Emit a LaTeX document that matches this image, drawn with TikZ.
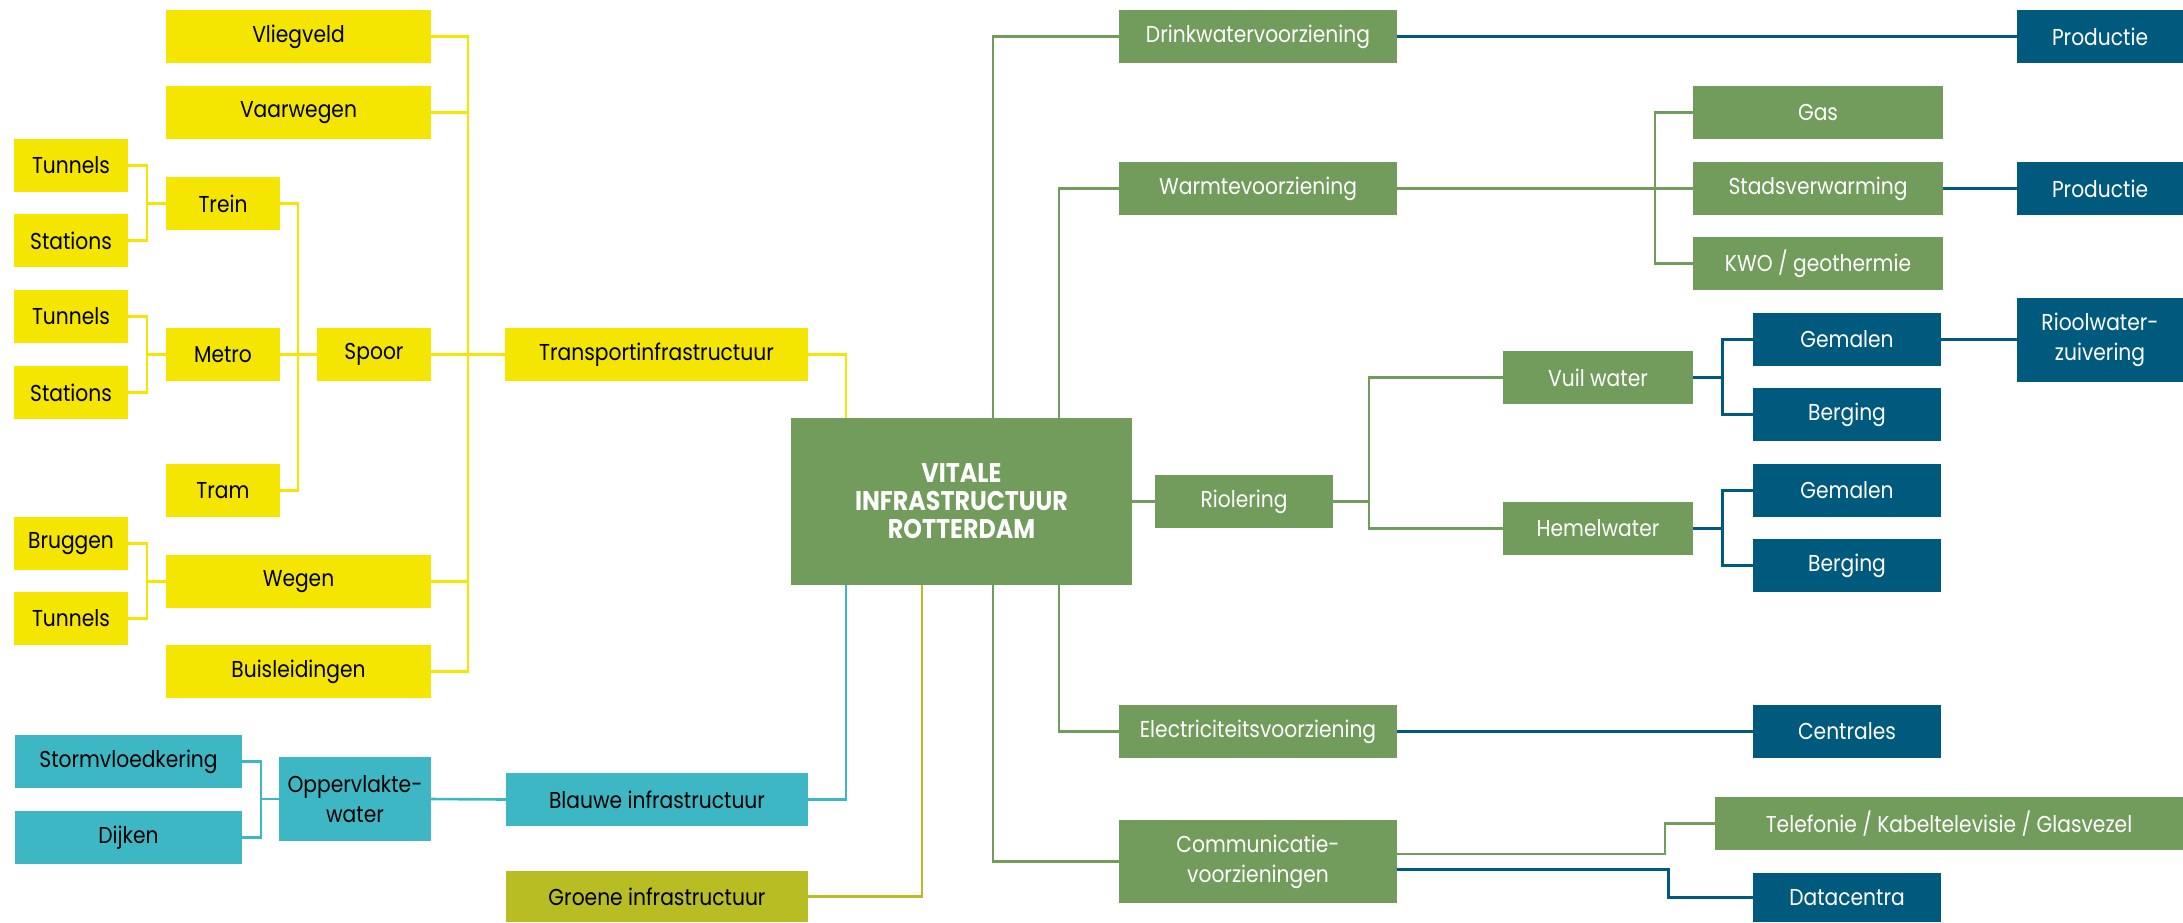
\documentclass[tikz,border=0pt]{standalone}
\usepackage{fontspec}
\setmainfont{Poppins}[FakeStretch=0.88]
\definecolor{yel}{HTML}{F4E600}
\definecolor{tea}{HTML}{3EB7C5}
\definecolor{oli}{HTML}{B7BD23}
\definecolor{grn}{HTML}{719C5B}
\definecolor{dbl}{HTML}{005A7D}
\newcommand\mkbox[7]{\node[#2, minimum width={#5-#3}, minimum height={#6-#4}] (#1) at ({(#3+#5)/2},{(#4+#6)/2}) {#7};}
\begin{document}
\begin{tikzpicture}[x=1pt,y=-1pt,
  boxbase/.style={inner sep=0pt, outer sep=0pt, align=center, font=\fontsize{23}{30}\selectfont},
  ybox/.style={boxbase, fill=yel, text=black},
  tbox/.style={boxbase, fill=tea, text=black},
  obox/.style={boxbase, fill=oli, text=black},
  gbox/.style={boxbase, fill=grn, text=white},
  dbox/.style={boxbase, fill=dbl, text=white},
  cbox/.style={boxbase, fill=grn, text=white, font=\fontsize{27}{28}\selectfont\bfseries},
  ylin/.style={draw=yel, line width=2.6pt},
  tlin/.style={draw=tea, line width=2.6pt},
  olin/.style={draw=oli, line width=2.6pt},
  glin/.style={draw=grn, line width=2.6pt},
  blin/.style={draw=dbl, line width=3pt},
]
\useasboundingbox (0,0) rectangle (2183,922);
% yellow
\mkbox{vlieg}{ybox}{166}{10}{431}{63}{Vliegveld}
\mkbox{vaar}{ybox}{166}{86}{431}{139}{Vaarwegen}
\mkbox{tun1}{ybox}{14}{139}{128}{192}{Tunnels}
\mkbox{sta1}{ybox}{14}{214}{128}{267}{Stations}
\mkbox{trein}{ybox}{166}{177}{280}{230}{Trein}
\mkbox{tun2}{ybox}{14}{290}{128}{343}{Tunnels}
\mkbox{sta2}{ybox}{14}{366}{128}{419}{Stations}
\mkbox{metro}{ybox}{166}{328}{280}{381}{Metro}
\mkbox{spoor}{ybox}{317}{328}{431}{381}{Spoor}
\mkbox{transport}{ybox}{505}{328}{808}{381}{Transportinfrastructuur}
\mkbox{tram}{ybox}{166}{464}{280}{517}{Tram}
\mkbox{brug}{ybox}{14}{517}{128}{570}{Bruggen}
\mkbox{wegen}{ybox}{166}{555}{431}{608}{Wegen}
\mkbox{tun3}{ybox}{14}{592}{128}{645}{Tunnels}
\mkbox{buis}{ybox}{166}{645}{431}{698}{Buisleidingen}
% teal / olive
\mkbox{storm}{tbox}{15}{735}{242}{788}{Stormvloedkering}
\mkbox{dijken}{tbox}{15}{811}{242}{864}{Dijken}
\mkbox{opper}{tbox}{279}{757}{431}{841}{Oppervlakte-\\water}
\mkbox{blauwe}{tbox}{506}{773}{808}{826}{Blauwe infrastructuur}
\mkbox{groene}{obox}{506}{871}{808}{922}{Groene infrastructuur}
% center
\mkbox{center}{cbox}{791}{418}{1132}{585}{VITALE\\INFRASTRUCTUUR\\ROTTERDAM}
% green
\mkbox{drink}{gbox}{1119}{10}{1397}{63}{Drinkwatervoorziening}
\mkbox{warmte}{gbox}{1119}{162}{1397}{215}{Warmtevoorziening}
\mkbox{gas}{gbox}{1693}{86}{1943}{139}{Gas}
\mkbox{stads}{gbox}{1693}{162}{1943}{215}{Stadsverwarming}
\mkbox{kwo}{gbox}{1693}{237}{1943}{290}{KWO / geothermie}
\mkbox{vuil}{gbox}{1503}{351}{1693}{404}{Vuil water}
\mkbox{riol}{gbox}{1155}{475}{1333}{528}{Riolering}
\mkbox{hemel}{gbox}{1503}{502}{1693}{555}{Hemelwater}
\mkbox{elec}{gbox}{1119}{705}{1397}{758}{Electriciteitsvoorziening}
\mkbox{comm}{gbox}{1119}{820}{1397}{903}{Communicatie-\\voorzieningen}
\mkbox{tele}{gbox}{1715}{797}{2183}{850}{Telefonie / Kabeltelevisie / Glasvezel}
% dark blue
\mkbox{prod1}{dbox}{2017}{10}{2183}{63}{Productie}
\mkbox{prod2}{dbox}{2017}{162}{2183}{215}{Productie}
\mkbox{gem1}{dbox}{1753}{313}{1941}{366}{Gemalen}
\mkbox{berg1}{dbox}{1753}{388}{1941}{441}{Berging}
\mkbox{riool}{dbox}{2017}{297.5}{2183}{381.5}{Rioolwater-\\zuivering}
\mkbox{gem2}{dbox}{1753}{464}{1941}{517}{Gemalen}
\mkbox{berg2}{dbox}{1753}{539}{1941}{592}{Berging}
\mkbox{centr}{dbox}{1753}{705}{1941}{758}{Centrales}
\mkbox{data}{dbox}{1753}{873}{1941}{922}{Datacentra}
% yellow connectors
\coordinate (tb) at (468,354.5);
\draw[ylin] (vlieg.east) -| (tb);
\draw[ylin] (vaar.east) -| (tb);
\draw[ylin] (wegen.east) -| (tb);
\draw[ylin] (buis.east) -| (tb);
\draw[ylin] (spoor.east) -- (transport.west);
\coordinate (sb) at (298,354.5);
\draw[ylin] (trein.east) -| (sb);
\draw[ylin] (tram.east) -| (sb);
\draw[ylin] (metro.east) -- (spoor.west);
\coordinate (t1) at (147,203.5);
\draw[ylin] (tun1.east) -| (t1) -- (trein.west);
\draw[ylin] (sta1.east) -| (t1);
\coordinate (t2) at (147,354.5);
\draw[ylin] (tun2.east) -| (t2) -- (metro.west);
\draw[ylin] (sta2.east) -| (t2);
\coordinate (t3) at (147,581.5);
\draw[ylin] (brug.east) -| (t3) -- (wegen.west);
\draw[ylin] (tun3.east) -| (t3);
\coordinate (ct1) at (846,418);
\draw[ylin] (transport.east) -| (ct1);
% teal / olive connectors
\coordinate (ob) at (261,799);
\draw[tlin] (storm.east) -| (ob) -- (opper.west);
\draw[tlin] (dijken.east) -| (ob);
\draw[tlin] (opper.east) -- (blauwe.west);
\coordinate (cb1) at (846,585);
\draw[tlin] (blauwe.east) -| (cb1);
\coordinate (cb2) at (922,585);
\draw[olin] (groene.east) -| (cb2);
% green connectors
\coordinate (ct2) at (993,418);
\coordinate (ct3) at (1059,418);
\coordinate (cb3) at (993,585);
\coordinate (cb4) at (1059,585);
\draw[glin] (ct2) |- (drink.west);
\draw[glin] (ct3) |- (warmte.west);
\draw[glin] (cb3) |- (comm.west);
\draw[glin] (cb4) |- (elec.west);
\draw[glin] (center.east) -- (riol.west);
\draw[glin] (warmte.east) -- (stads.west);
\coordinate (wb) at (1655,188.5);
\draw[glin] (gas.west) -| (wb);
\draw[glin] (kwo.west) -| (wb);
\coordinate (rb) at (1369,501.5);
\draw[glin] (riol.east) -- (rb);
\draw[glin] (vuil.west) -| (rb);
\draw[glin] (hemel.west) -| (rb);
\coordinate (cm1) at (1397,854);
\coordinate (tv) at (1665,823.5);
\draw[glin] (cm1) -| (tv) -- (tele.west);
% blue connectors
\draw[blin] (drink.east) -- (prod1.west);
\draw[blin] (stads.east) -- (prod2.west);
\draw[blin] (elec.east) -- (centr.west);
\draw[blin] (gem1.east) -- (riool.west);
\coordinate (vb) at (1722,377.5);
\draw[blin] (vuil.east) -- (vb);
\draw[blin] (gem1.west) -| (vb);
\draw[blin] (berg1.west) -| (vb);
\coordinate (hb) at (1722,528.5);
\draw[blin] (hemel.east) -- (hb);
\draw[blin] (gem2.west) -| (hb);
\draw[blin] (berg2.west) -| (hb);
\coordinate (cm2) at (1397,869);
\coordinate (dv) at (1668,897.5);
\draw[blin] (cm2) -| (dv) -- (data.west);
\end{tikzpicture}
\end{document}
